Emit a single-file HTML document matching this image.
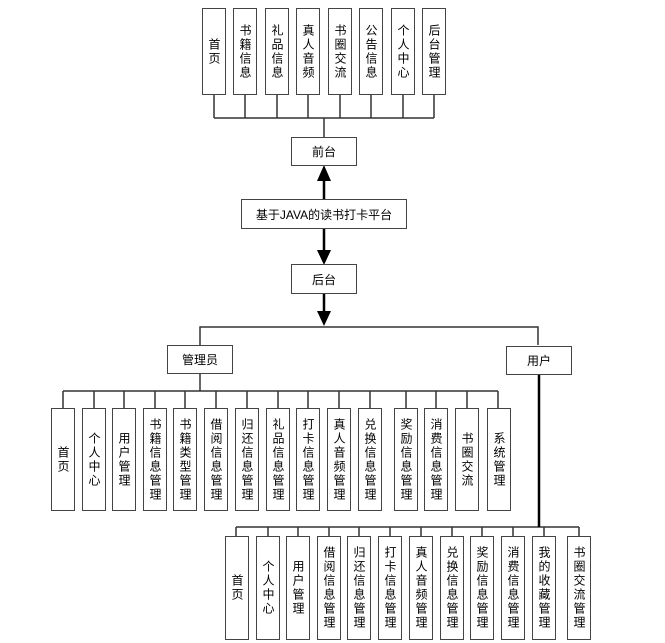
<!DOCTYPE html>
<html><head><meta charset="utf-8"><style>
body{margin:0;background:#fff;width:665px;height:643px;position:relative;overflow:hidden;font-family:"Liberation Sans","Noto Sans CJK SC",sans-serif;}
.b{position:absolute;border:1.5px solid #444;box-sizing:border-box;background:#fff;display:flex;align-items:center;justify-content:center;font-size:12px;color:#000;}
.v{writing-mode:vertical-rl;text-orientation:upright;letter-spacing:2px;line-height:1;}
svg{position:absolute;left:0;top:0}
</style></head><body>
<svg width="665" height="643">
<g stroke="#333" stroke-width="1.5" fill="none">
<path d="M214 95V118M245 95V118M277 95V118M308 95V118M340 95V118M371 95V118M403 95V118M434 95V118M214 118H434M324 118V137"/>
<path d="M200 345V327H538V345"/>
<path d="M200 374V391M63 391H498M63 391V408M94 391V408M124 391V408M155 391V408M185 391V408M216 391V408M247 391V408M278 391V408M308 391V408M339 391V408M370 391V408M406 391V408M436 391V408M467 391V408M498 391V408"/>
<path d="M236 527H579M236 527V536M268 527V536M298 527V536M329 527V536M359 527V536M390 527V536M421 527V536M452 527V536M482 527V536M513 527V536M544 527V536M579 527V536"/>
</g>
<g stroke="#000" stroke-width="2.5">
<path d="M324 199V180M324 228V250M324 294V313M539 360V527"/>
</g>
<g fill="#000">
<path d="M317 181L331 181L324 165Z"/>
<path d="M317 250L331 250L324 265Z"/>
<path d="M317 311L331 311L324 326Z"/>
</g>
</svg>
<div class="b v" style="left:202px;top:8px;width:24px;height:87px">首页</div>
<div class="b v" style="left:233px;top:8px;width:24px;height:87px">书籍信息</div>
<div class="b v" style="left:265px;top:8px;width:24px;height:87px">礼品信息</div>
<div class="b v" style="left:296px;top:8px;width:24px;height:87px">真人音频</div>
<div class="b v" style="left:328px;top:8px;width:24px;height:87px">书圈交流</div>
<div class="b v" style="left:359px;top:8px;width:24px;height:87px">公告信息</div>
<div class="b v" style="left:391px;top:8px;width:24px;height:87px">个人中心</div>
<div class="b v" style="left:422px;top:8px;width:24px;height:87px">后台管理</div>
<div class="b" style="left:291px;top:137px;width:66px;height:29px">前台</div>
<div class="b" style="left:241px;top:199px;width:166px;height:30px">基于JAVA的读书打卡平台</div>
<div class="b" style="left:291px;top:264px;width:66px;height:30px">后台</div>
<div class="b" style="left:167px;top:345px;width:66px;height:29px">管理员</div>
<div class="b" style="left:506px;top:346px;width:66px;height:29px">用户</div>

<div class="b v" style="left:51px;top:408px;width:24px;height:103px">首页</div>
<div class="b v" style="left:82px;top:408px;width:24px;height:103px">个人中心</div>
<div class="b v" style="left:112px;top:408px;width:24px;height:103px">用户管理</div>
<div class="b v" style="left:143px;top:408px;width:24px;height:103px">书籍信息管理</div>
<div class="b v" style="left:173px;top:408px;width:24px;height:103px">书籍类型管理</div>
<div class="b v" style="left:204px;top:408px;width:24px;height:103px">借阅信息管理</div>
<div class="b v" style="left:235px;top:408px;width:24px;height:103px">归还信息管理</div>
<div class="b v" style="left:266px;top:408px;width:24px;height:103px">礼品信息管理</div>
<div class="b v" style="left:296px;top:408px;width:24px;height:103px">打卡信息管理</div>
<div class="b v" style="left:327px;top:408px;width:24px;height:103px">真人音频管理</div>
<div class="b v" style="left:358px;top:408px;width:24px;height:103px">兑换信息管理</div>
<div class="b v" style="left:394px;top:408px;width:24px;height:103px">奖励信息管理</div>
<div class="b v" style="left:424px;top:408px;width:24px;height:103px">消费信息管理</div>
<div class="b v" style="left:455px;top:408px;width:24px;height:103px">书圈交流</div>
<div class="b v" style="left:487px;top:408px;width:24px;height:103px">系统管理</div>

<div class="b v" style="left:225px;top:536px;width:24px;height:104px">首页</div>
<div class="b v" style="left:256px;top:536px;width:24px;height:104px">个人中心</div>
<div class="b v" style="left:286px;top:536px;width:24px;height:104px">用户管理</div>
<div class="b v" style="left:317px;top:536px;width:24px;height:104px">借阅信息管理</div>
<div class="b v" style="left:347px;top:536px;width:24px;height:104px">归还信息管理</div>
<div class="b v" style="left:378px;top:536px;width:24px;height:104px">打卡信息管理</div>
<div class="b v" style="left:409px;top:536px;width:24px;height:104px">真人音频管理</div>
<div class="b v" style="left:440px;top:536px;width:24px;height:104px">兑换信息管理</div>
<div class="b v" style="left:470px;top:536px;width:24px;height:104px">奖励信息管理</div>
<div class="b v" style="left:501px;top:536px;width:24px;height:104px">消费信息管理</div>
<div class="b v" style="left:532px;top:536px;width:24px;height:104px">我的收藏管理</div>
<div class="b v" style="left:567px;top:536px;width:24px;height:104px">书圈交流管理</div>
</body></html>
